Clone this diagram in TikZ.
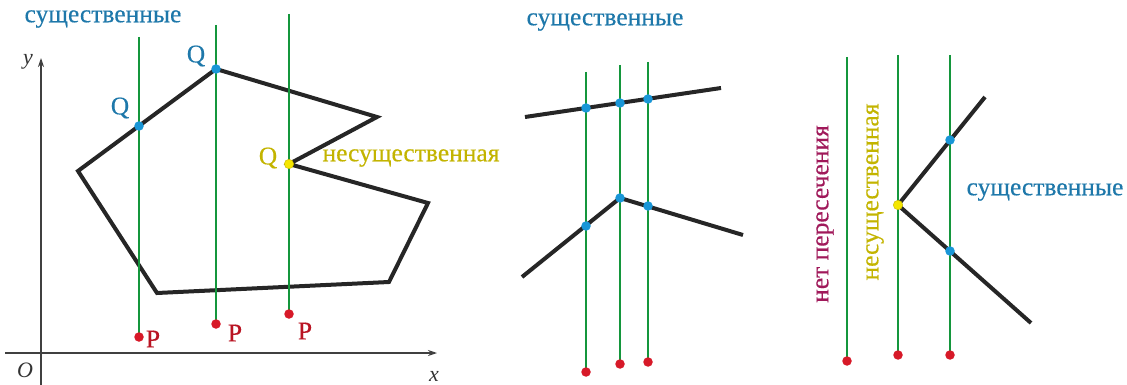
\documentclass[tikz,border=0pt]{standalone}
\usepackage{fontspec}
\setmainfont{Liberation Serif}
\newfontfamily\labfont{Liberation Serif}[FakeBold=0.4]
\usetikzlibrary{arrows.meta}
\definecolor{tblue}{RGB}{30,120,170}
\definecolor{dblue}{RGB}{25,150,215}
\definecolor{gline}{RGB}{20,150,60}
\definecolor{rdot}{RGB}{215,25,40}
\definecolor{ydot}{RGB}{245,230,0}
\definecolor{ytext}{RGB}{195,180,0}
\definecolor{mtext}{RGB}{160,25,90}
\definecolor{ptext}{RGB}{185,20,35}
\tikzset{
  dot/.style={circle,inner sep=0pt,minimum size=9.5pt},
  bdot/.style={dot,fill=dblue},
  rdotst/.style={dot,fill=rdot},
  ydotst/.style={dot,fill=ydot,draw=ytext,line width=0.4pt},
  vline/.style={draw=gline,line width=2pt},
  poly/.style={draw=black!85,line width=4pt,line join=miter},
  axis/.style={draw=black!75,line width=1.2pt,-{Stealth[length=9pt,width=6pt]}},
  big/.style={font=\labfont\fontsize{25.5}{28}\selectfont,inner sep=0pt},
  bluet/.style={big,text=tblue},
  yellowt/.style={big,text=ytext},
  redt/.style={big,text=ptext},
  axlab/.style={font=\fontsize{22}{24}\selectfont\itshape,inner sep=0pt,text=black!80}
}
\begin{document}
\begin{tikzpicture}[x=1pt,y=-1pt]
\useasboundingbox (0,0) rectangle (1127,385);
% ---------- left part ----------
\coordinate (yb) at (41,385);
\coordinate (yt) at (41,58);
\coordinate (xl) at (5,353);
\coordinate (xr) at (437,353);
\draw[axis] (yb) -- (yt);
\draw[axis] (xl) -- (xr);
\node[axlab] (ylab) at (28,62) {y};
\node[axlab] (xlab) at (434,376) {x};
\node[axlab] (olab) at (25,370) {O};
% polygon
\coordinate (v1) at (78,171);
\coordinate (v2) at (216,69);
\coordinate (v3) at (377,117);
\coordinate (v4) at (289,164);
\coordinate (v5) at (428,203);
\coordinate (v6) at (389,282);
\coordinate (v7) at (157,293);
\draw[poly] (v1) -- (v2) -- (v3) -- (v4) -- (v5) -- (v6) -- (v7) -- cycle;
% scan lines
\coordinate (la1) at (139,37);  \coordinate (lp1) at (139,337);
\coordinate (la2) at (216,25);  \coordinate (lp2) at (216,324);
\coordinate (la3) at (289,14);  \coordinate (lp3) at (289,314);
\draw[vline] (la1) -- (lp1);
\draw[vline] (la2) -- (lp2);
\draw[vline] (la3) -- (lp3);
\node[bdot] (lq1) at (139,126) {};
\node[bdot] (lq2) at (v2) {};
\node[ydotst] (lq3) at (v4) {};
\node[rdotst] (lr1) at (lp1) {};
\node[rdotst] (lr2) at (lp2) {};
\node[rdotst] (lr3) at (lp3) {};
\node[bluet] (lQ1) at (120,108) {Q};
\node[bluet] (lQ2) at (196,56) {Q};
\node[yellowt] (lQ3) at (268,158) {Q};
\node[redt] (lP1) at (153,339) {P};
\node[redt] (lP2) at (235,333) {P};
\node[redt] (lP3) at (305,331) {P};
\node[bluet] (lsush) at (103,19) {существенные};
\node[yellowt] (lnesush) at (411,158) {несущественная};
% ---------- middle part ----------
\node[bluet] (msush) at (605,22) {существенные};
\coordinate (ma1) at (586,72);  \coordinate (mp1) at (586,372);
\coordinate (ma2) at (620,65);  \coordinate (mp2) at (620,364);
\coordinate (ma3) at (648,62);  \coordinate (mp3) at (648,362);
\coordinate (u1) at (525,117); \coordinate (u2) at (721,88);
\coordinate (w1) at (522,277); \coordinate (w2) at (620,198); \coordinate (w3) at (743,235);
\draw[vline] (ma1) -- (mp1);
\draw[vline] (ma2) -- (mp2);
\draw[vline] (ma3) -- (mp3);
\draw[poly] (u1) -- (u2);
\draw[poly] (w1) -- (w2) -- (w3);
\node[bdot] (mb1) at (586,108) {};
\node[bdot] (mb2) at (620,103) {};
\node[bdot] (mb3) at (648,99) {};
\node[bdot] (mb4) at (586,226) {};
\node[bdot] (mb5) at (w2) {};
\node[bdot] (mb6) at (648,206) {};
\node[rdotst] (mr1) at (mp1) {};
\node[rdotst] (mr2) at (mp2) {};
\node[rdotst] (mr3) at (mp3) {};
% ---------- right part ----------
\coordinate (ra1) at (847,57);  \coordinate (rp1) at (847,361);
\coordinate (ra2) at (898,55);  \coordinate (rp2) at (898,355);
\coordinate (ra3) at (950,55);  \coordinate (rp3) at (950,355);
\coordinate (k1) at (985,97); \coordinate (k2) at (898,205); \coordinate (k3) at (1031,323);
\draw[vline] (ra1) -- (rp1);
\draw[vline] (ra2) -- (rp2);
\draw[vline] (ra3) -- (rp3);
\draw[poly] (k1) -- (k2) -- (k3);
\node[ydotst] (ry) at (k2) {};
\node[bdot] (rb1) at (950,140) {};
\node[bdot] (rb2) at (950,251) {};
\node[rdotst] (rr1) at (rp1) {};
\node[rdotst] (rr2) at (rp2) {};
\node[rdotst] (rr3) at (rp3) {};
\node[big,text=mtext,rotate=90] (rnet) at (825,214) {нет пересечения};
\node[yellowt,rotate=90] (rnes) at (875,192) {несущественная};
\node[bluet] (rsush) at (1045,192) {существенные};
\end{tikzpicture}
\end{document}
